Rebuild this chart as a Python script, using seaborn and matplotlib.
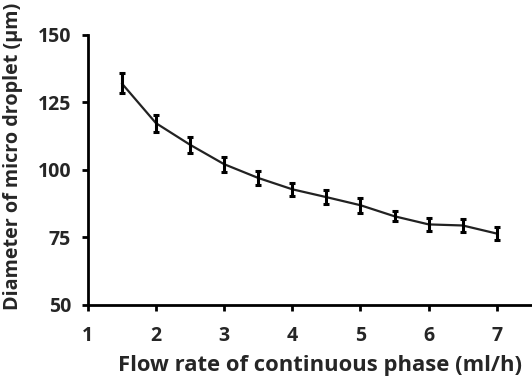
import matplotlib
matplotlib.use("Agg")
import matplotlib.pyplot as plt
import seaborn as sns
import pandas as pd

flow_rate = [1.5, 2.0, 2.5, 3.0, 3.5, 4.0, 4.5, 5.0, 5.5, 6.0, 6.5, 7.0]
diameter = [132.0, 117.3, 109.3, 102.1, 97.0, 92.8, 89.9, 86.9, 82.8, 79.8, 79.4, 76.4]
error = [3.7, 3.1, 2.9, 2.8, 2.5, 2.5, 2.7, 2.7, 1.8, 2.5, 2.4, 2.5]
x_ticks = [1, 2, 3, 4, 5, 6, 7]
y_ticks = [50, 75, 100, 125, 150]

sns.set_theme(style="white")
plt.rcParams['font.family'] = ['Open Sans', 'DejaVu Sans']
plt.rcParams['font.weight'] = 'bold'

df = pd.DataFrame({"flow": flow_rate, "diam": diameter, "err": error})

fig = plt.figure(figsize=(5.32, 3.83), dpi=100)
ax = fig.add_axes([0.165, 0.204, 0.833, 0.705])

sns.lineplot(data=df, x="flow", y="diam", ax=ax, color="#222222", linewidth=1.6)
ax.errorbar(df["flow"], df["diam"], yerr=df["err"], fmt="none", ecolor="black",
            elinewidth=2.2, capsize=2.5, capthick=2.2)

ax.set_xlim(1, 7.5)
ax.set_ylim(50, 150)
ax.set_xticks(x_ticks)
ax.set_yticks(y_ticks)
ax.tick_params(axis="both", direction="out", length=4, width=2, color="black",
               labelsize=14, bottom=True, left=True)
ax.tick_params(axis="y", pad=8)
ax.tick_params(axis="x", pad=11)
for lab in ax.get_xticklabels() + ax.get_yticklabels():
    lab.set_fontweight("bold")
for side in ["top", "right"]:
    ax.spines[side].set_visible(False)
for side in ["left", "bottom"]:
    ax.spines[side].set_color("black")
    ax.spines[side].set_linewidth(2)

ax.set_xlabel("Flow rate of continuous phase (ml/h)", fontsize=15.8, fontweight="bold")
ax.set_ylabel("Diameter of micro droplet (μm)", fontsize=14.2, fontweight="bold")
ax.xaxis.set_label_coords(0.523, -0.185)
ax.yaxis.set_label_coords(-0.146, 0.55)

fig.savefig("out.png", dpi=100, facecolor="white")
